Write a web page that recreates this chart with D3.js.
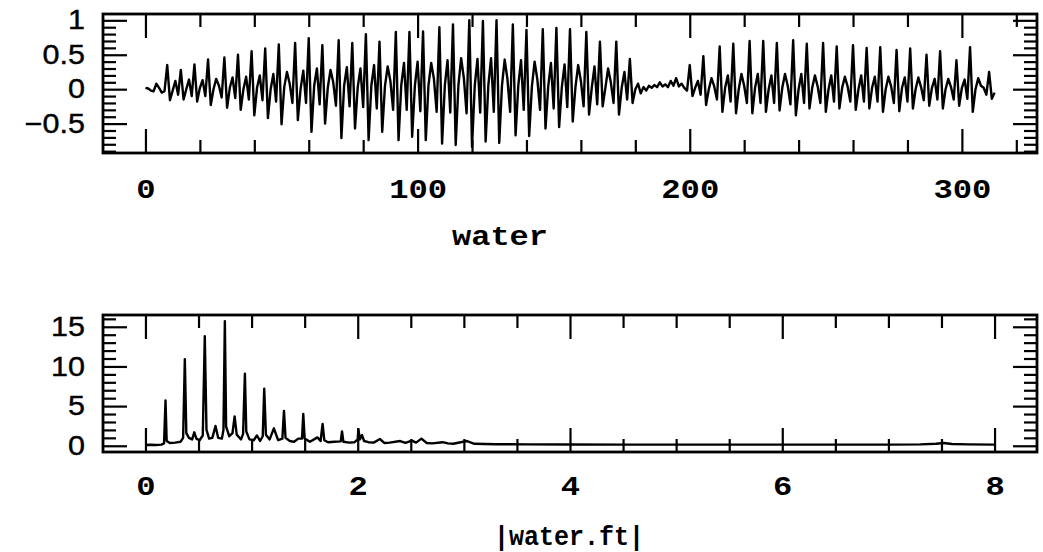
<!DOCTYPE html>
<html>
<head>
<meta charset="utf-8">
<script src="https://cdn.jsdelivr.net/npm/d3@7"></script>
<style>
  html, body { margin: 0; padding: 0; background: #fff; }
  svg { display: block; }
</style>
</head>
<body>
<svg id="chart" width="1043" height="552"></svg>
<script>
// Speech waveform of the word "water", one value per millisecond (t = 0 … 312 ms)
const waterSignal = [
  // onset 0–7
  0.02, 0.01, -0.02, -0.03, 0.08, 0.02, -0.05, -0.03,
  // voiced "wa" section, one pitch period per row
  0.35, -0.16, -0.02, 0.12, -0.08,
  0.28, -0.15, 0.0, 0.14, -0.1,
  0.36, -0.18, 0.02, 0.13, -0.1,
  0.43, -0.23, 0.0, 0.15, 0.05, -0.12,
  0.46, -0.27, 0.02, 0.17, -0.13,
  0.5, -0.3, 0.0, 0.18, -0.15,
  0.55, -0.38, 0.02, 0.2, -0.16,
  0.59, -0.42, 0.0, 0.22, -0.18,
  0.65, -0.51, 0.03, 0.25, 0.08, -0.2,
  0.67, -0.45, 0.0, 0.27, -0.2,
  0.74, -0.62, 0.05, 0.3, -0.22,
  0.64, -0.5, 0.02, 0.28, 0.1, -0.24,
  0.71, -0.71, 0.05, 0.32, -0.25,
  0.67, -0.57, 0.03, 0.3, -0.26,
  0.8, -0.74, 0.05, 0.35, -0.28,
  0.69, -0.62, 0.04, 0.33, 0.12, -0.3,
  0.83, -0.74, 0.06, 0.38, -0.3,
  0.83, -0.69, 0.05, 0.4, -0.32,
  0.84, -0.74, 0.06, 0.38, 0.15, -0.33,
  0.9, -0.79, 0.05, 0.42, -0.34,
  0.94, -0.81, 0.06, 0.45, 0.16, -0.35,
  1.0, -0.835, 0.05, 0.44, -0.34,
  0.99, -0.76, 0.06, 0.45, -0.33,
  1.0, -0.78, 0.05, 0.43, 0.15, -0.33,
  0.94, -0.67, 0.05, 0.42, -0.3,
  0.86, -0.68, 0.04, 0.4, 0.14, -0.3,
  0.87, -0.57, 0.04, 0.38, -0.28,
  0.89, -0.55, 0.03, 0.36, -0.26,
  0.87, -0.47, 0.03, 0.35, 0.12, -0.25,
  0.83, -0.37, 0.02, 0.33, -0.22,
  0.69, -0.25, 0.02, 0.3, 0.1, -0.2,
  0.69, -0.37, 0.02, 0.25, -0.15,
  0.44, -0.2, 0.0, 0.08, -0.06,
  // closure "t", 183–199
  0.03, -0.02, 0.05, 0.02, 0.06, 0.03, 0.1, 0.04, 0.07, 0.03, 0.12, 0.05, 0.16, 0.04, 0.08, 0.02, -0.02,
  // voiced "er" section
  0.35, -0.1, 0.02, 0.12, -0.08,
  0.48, -0.23, 0.0, 0.16, 0.04, -0.15,
  0.62, -0.33, 0.02, 0.2, -0.18,
  0.66, -0.35, 0.0, 0.22, 0.05, -0.2,
  0.7, -0.35, 0.02, 0.22, -0.2,
  0.7, -0.33, 0.0, 0.2, -0.2,
  0.67, -0.31, 0.02, 0.22, 0.05, -0.22,
  0.71, -0.38, 0.0, 0.22, -0.2,
  0.66, -0.28, 0.02, 0.2, 0.04, -0.2,
  0.67, -0.33, 0.0, 0.2, -0.18,
  0.62, -0.28, 0.02, 0.18, 0.04, -0.18,
  0.64, -0.3, 0.0, 0.2, -0.18,
  0.6, -0.28, 0.02, 0.18, -0.18,
  0.61, -0.33, 0.0, 0.18, 0.04, -0.2,
  0.57, -0.32, 0.02, 0.17, -0.18,
  0.59, -0.28, 0.0, 0.17, 0.03, -0.16,
  0.5, -0.24, 0.02, 0.15, -0.15,
  0.55, -0.28, 0.0, 0.15, 0.03, -0.15,
  0.42, -0.24, 0.02, 0.14, -0.14,
  0.61, -0.33, 0.0, 0.16, 0.05, 0.02, -0.08,
  0.25, -0.14, -0.05
];

// Magnitude of the Fourier transform |water.ft| against frequency
const fftFreq = [
  0, 0.05, 0.1, 0.15, 0.175, 0.189, 0.2, 0.23, 0.28, 0.33,
  0.355, 0.371, 0.385, 0.41, 0.44, 0.46, 0.48, 0.51, 0.54, 0.559,
  0.575, 0.6, 0.63, 0.66, 0.685, 0.72, 0.735, 0.748, 0.76, 0.79,
  0.82, 0.84, 0.86, 0.9, 0.92, 0.937, 0.95, 0.98, 1.02, 1.05,
  1.08, 1.105, 1.119, 1.135, 1.17, 1.21, 1.25, 1.29, 1.305, 1.32,
  1.36, 1.4, 1.44, 1.475, 1.487, 1.5, 1.55, 1.62, 1.65, 1.669,
  1.685, 1.72, 1.78, 1.84, 1.852, 1.865, 1.92, 1.97, 2.0, 2.006,
  2.02, 2.04, 2.06, 2.1, 2.15, 2.21, 2.25, 2.3, 2.4, 2.45,
  2.51, 2.55, 2.6, 2.65, 2.7, 2.8, 2.85, 2.9, 3.03, 3.1,
  3.3, 3.6, 4.0, 4.5, 5.0, 5.5, 6.0, 6.5, 7.0, 7.3,
  7.45, 7.52, 7.6, 7.75, 8.0
];
const fftMag = [
  0.1, 0.12, 0.1, 0.15, 0.3, 5.7, 0.6, 0.35, 0.4, 0.5,
  1.0, 10.9, 1.6, 1.0, 0.8, 1.7, 0.9, 0.7, 1.3, 13.8,
  2.0, 0.9, 1.0, 2.5, 1.0, 0.9, 2.0, 15.7, 2.4, 1.2,
  1.6, 3.7, 1.4, 0.8, 1.5, 9.1, 1.8, 0.8, 0.7, 1.3,
  0.6, 1.2, 7.2, 1.4, 0.8, 2.2, 0.7, 0.9, 4.4, 1.0,
  0.6, 0.5, 0.9, 0.9, 4.0, 0.9, 0.5, 1.06, 0.6, 2.75,
  0.7, 0.45, 0.5, 0.55, 1.8, 0.5, 0.4, 0.45, 0.8, 2.1,
  0.8, 1.35, 0.6, 0.45, 0.4, 0.85, 0.35, 0.4, 0.6, 0.35,
  0.65, 0.4, 0.9, 0.35, 0.3, 0.45, 0.3, 0.25, 0.6, 0.25,
  0.2, 0.18, 0.16, 0.15, 0.15, 0.15, 0.15, 0.15, 0.15, 0.18,
  0.25, 0.35, 0.22, 0.17, 0.15
];

// Axis tick values and labels
const topXTicks = [0, 100, 200, 300];
const topYTicks = [-0.5, 0, 0.5, 1];
const botXTicks = [0, 2, 4, 6, 8];
const botYTicks = [0, 5, 10, 15];
const topXLabel = "water";
const botXLabel = "|water.ft|";

// ---------------------------------------------------------------------------
const svg = d3.select("#chart");
const plotLeft = 103, plotRight = 1037;
const labelFont = "'Liberation Mono', 'Courier New', monospace";
const numFont = "'Liberation Sans', Arial, Helvetica, sans-serif";

// Extend a data range by 5% at each end
function padded(lo, hi) {
  const r = hi - lo;
  return [lo - 0.05 * r, hi + 0.05 * r];
}

function panel(cfg) {
  const g = svg.append("g");
  const x = d3.scaleLinear().domain(padded(...cfg.xExtent)).range([plotLeft, plotRight]);
  const y = d3.scaleLinear().domain(padded(...cfg.yExtent)).range([cfg.bottom, cfg.top]);
  const inner = cfg.bottom - cfg.top;
  const majorLen = 24, minorLen = 13;

  // minor ticks on all four sides (pointing into the plot)
  const minorAxes = [
    [d3.axisBottom(x), `translate(0,${cfg.top})`, cfg.xMinor],
    [d3.axisTop(x), `translate(0,${cfg.bottom})`, cfg.xMinor],
    [d3.axisRight(y), `translate(${plotLeft},0)`, cfg.yMinor],
    [d3.axisLeft(y), `translate(${plotRight},0)`, cfg.yMinor]
  ];
  minorAxes.forEach(([ax, tr, vals]) => {
    g.append("g").attr("transform", tr)
      .call(ax.tickValues(vals).tickSize(minorLen).tickFormat(""))
      .call(s => s.select(".domain").remove())
      .call(s => s.selectAll("line").attr("stroke", "#000").attr("stroke-width", 2.2));
  });
  // major ticks (inward) without labels on top and right
  g.append("g").attr("transform", `translate(0,${cfg.top})`)
    .call(d3.axisBottom(x).tickValues(cfg.xTicks).tickSize(majorLen).tickFormat(""))
    .call(s => s.select(".domain").remove())
    .call(s => s.selectAll("line").attr("stroke", "#000").attr("stroke-width", 2.2));
  g.append("g").attr("transform", `translate(${plotRight},0)`)
    .call(d3.axisLeft(y).tickValues(cfg.yTicks).tickSize(majorLen).tickFormat(""))
    .call(s => s.select(".domain").remove())
    .call(s => s.selectAll("line").attr("stroke", "#000").attr("stroke-width", 2.2));

  // bottom axis: inward major ticks with labels below the frame
  const xb = g.append("g").attr("transform", `translate(0,${cfg.bottom})`)
    .call(d3.axisBottom(x).tickValues(cfg.xTicks).tickSizeInner(-majorLen).tickSizeOuter(0)
      .tickPadding(cfg.xLabelPad).tickFormat(d3.format("d")));
  xb.select(".domain").remove();
  xb.selectAll("line").attr("stroke", "#000").attr("stroke-width", 2.2);
  xb.selectAll("text")
    .attr("font-family", labelFont).attr("font-weight", "bold")
    .attr("font-size", 28).attr("fill", "#000")
    .attr("dy", null).attr("dominant-baseline", "alphabetic")
    .each(function () {
      const t = d3.select(this);
      const yy = +t.attr("y");
      t.attr("y", null).attr("transform", `translate(0,${yy}) scale(1.15,1)`);
    });

  // left axis: inward major ticks with labels to the left
  const yl = g.append("g").attr("transform", `translate(${plotLeft},0)`)
    .call(d3.axisLeft(y).tickValues(cfg.yTicks).tickSizeInner(-majorLen).tickSizeOuter(0)
      .tickPadding(18).tickFormat(cfg.yFormat));
  yl.select(".domain").remove();
  yl.selectAll("line").attr("stroke", "#000").attr("stroke-width", 2.2);
  yl.selectAll("text")
    .attr("font-family", numFont).attr("font-size", 27).attr("fill", "#000")
    .attr("stroke", "#000").attr("stroke-width", 0.4)
    .each(function () {
      const t = d3.select(this);
      const xx = +t.attr("x");
      t.attr("x", null).attr("transform", `translate(${xx},0) scale(1.13,1)`);
    });

  // data line
  g.append("path")
    .datum(cfg.data)
    .attr("fill", "none")
    .attr("stroke", "#000")
    .attr("stroke-width", 2.4)
    .attr("stroke-linejoin", "round")
    .attr("d", d3.line().x(d => x(d[0])).y(d => y(d[1])));

  // frame
  g.append("rect")
    .attr("x", plotLeft).attr("y", cfg.top)
    .attr("width", plotRight - plotLeft).attr("height", inner)
    .attr("fill", "none").attr("stroke", "#000").attr("stroke-width", 2.8);

  // axis title
  g.append("text")
    .attr("x", cfg.titleX).attr("y", cfg.titleY)
    .attr("text-anchor", "middle")
    .attr("font-family", labelFont).attr("font-weight", "bold")
    .attr("font-size", 28).attr("fill", "#000")
    .attr("textLength", cfg.titleWidth).attr("lengthAdjust", "spacingAndGlyphs")
    .text(cfg.title);
}

const minusFmt = v => (v < 0 ? "\u2212" : "") + d3.format("")(Math.abs(v));

panel({
  data: waterSignal.map((v, i) => [i, v]),
  xExtent: [0, waterSignal.length - 1],
  yExtent: d3.extent(waterSignal),
  top: 14, bottom: 153,
  xTicks: topXTicks, yTicks: topYTicks,
  xMinor: d3.range(20, 330, 20).filter(v => !topXTicks.includes(v)),
  yMinor: d3.range(-9, 11).map(v => v / 10).filter(v => !topYTicks.includes(v)),
  yFormat: minusFmt,
  xLabelPad: 45,
  title: topXLabel, titleX: 500, titleY: 245, titleWidth: 96
});

panel({
  data: fftFreq.map((f, i) => [f, fftMag[i]]),
  xExtent: d3.extent(fftFreq),
  yExtent: [0, d3.max(fftMag)],
  top: 315, bottom: 452,
  xTicks: botXTicks, yTicks: botYTicks,
  xMinor: d3.range(0.5, 8.4, 0.5).filter(v => !botXTicks.includes(v)),
  yMinor: d3.range(1, 17).filter(v => !botYTicks.includes(v)),
  yFormat: minusFmt,
  xLabelPad: 43,
  title: botXLabel, titleX: 569, titleY: 545, titleWidth: 150
});
</script>
</body>
</html>
